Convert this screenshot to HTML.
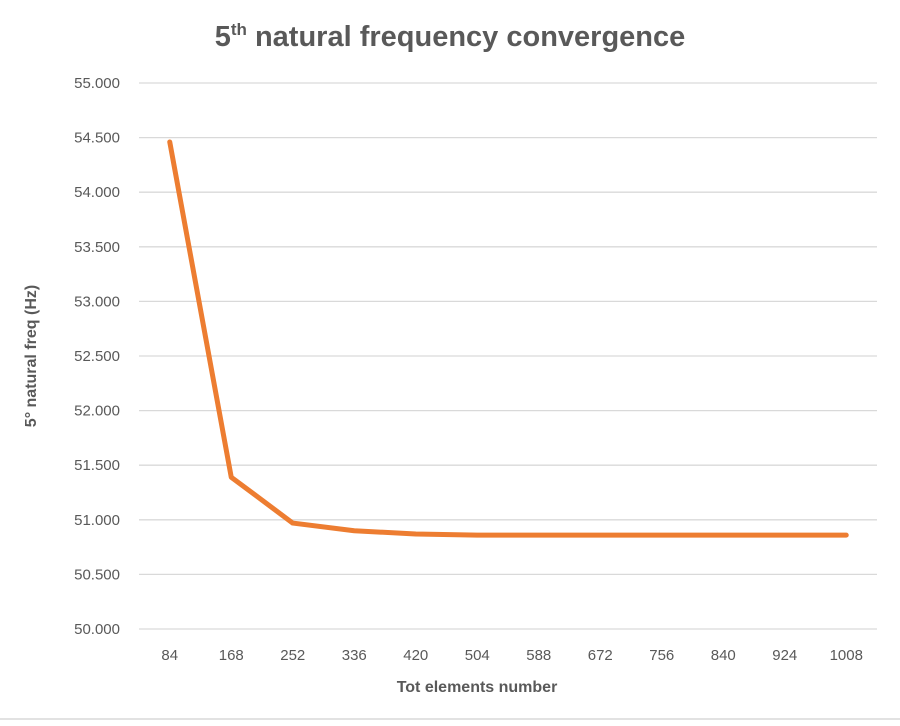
<!DOCTYPE html>
<html><head><meta charset="utf-8"><style>
body{margin:0;background:#fff;}
svg text{font-family:"Liberation Sans",sans-serif;}
</style></head><body>
<svg width="900" height="721" viewBox="0 0 900 721">
<rect width="900" height="721" fill="#fff"/>
<text x="450" y="46" text-anchor="middle" font-size="29" font-weight="bold" fill="#595959">5<tspan font-size="17" dy="-11">th</tspan><tspan dy="11"> natural frequency convergence</tspan></text>
<g id="grid"></g>
<g id="yticks"></g>
<g id="xticks"></g>
<g id="series"></g>
<text x="477" y="692" text-anchor="middle" font-size="16" font-weight="bold" fill="#595959">Tot elements number</text>
<text transform="translate(36,356) rotate(-90)" text-anchor="middle" font-size="16" font-weight="bold" fill="#595959">5° natural freq (Hz)</text>
<line x1="0" y1="719" x2="900" y2="719" stroke="#d9d9d9" stroke-width="1.5"/>
</svg>
<script>
const categories=["84","168","252","336","420","504","588","672","756","840","924","1008"];
const values=[54.46,51.39,50.97,50.90,50.87,50.86,50.86,50.86,50.86,50.86,50.86,50.86];
const yTicks=[50,50.5,51,51.5,52,52.5,53,53.5,54,54.5,55];
const NS="http://www.w3.org/2000/svg";
const x0=139,x1=877,yTop=83,yBot=629,yMin=50,yMax=55;
const step=(x1-x0)/categories.length;
const xs=i=>x0+step*(i+0.5);
const ys=v=>yBot-(v-yMin)/(yMax-yMin)*(yBot-yTop);
function mk(t,a,p){const e=document.createElementNS(NS,t);for(const k in a)e.setAttribute(k,a[k]);p.appendChild(e);return e;}
const g=document.getElementById('grid'),yt=document.getElementById('yticks'),xt=document.getElementById('xticks'),s=document.getElementById('series');
yTicks.forEach(v=>{
 const l=mk('line',{x1:x0,x2:x1,y1:ys(v),y2:ys(v),stroke:'#d9d9d9','stroke-width':1.3},g);
 
 
 const t=mk('text',{x:120,y:ys(v)+5,'text-anchor':'end','font-size':15,fill:'#595959'},yt);
 t.textContent=v.toFixed(3);
 
 
});
categories.forEach((c,i)=>{
 const t=mk('text',{x:xs(i),y:660,'text-anchor':'middle','font-size':15,fill:'#595959'},xt);
 t.textContent=c;
 
 
});
const p=mk('polyline',{points:values.map((v,i)=>xs(i)+','+ys(v)).join(' '),fill:'none',stroke:'#ed7d31','stroke-width':5,'stroke-linejoin':'round','stroke-linecap':'round'},s);


</script>
</body></html>
